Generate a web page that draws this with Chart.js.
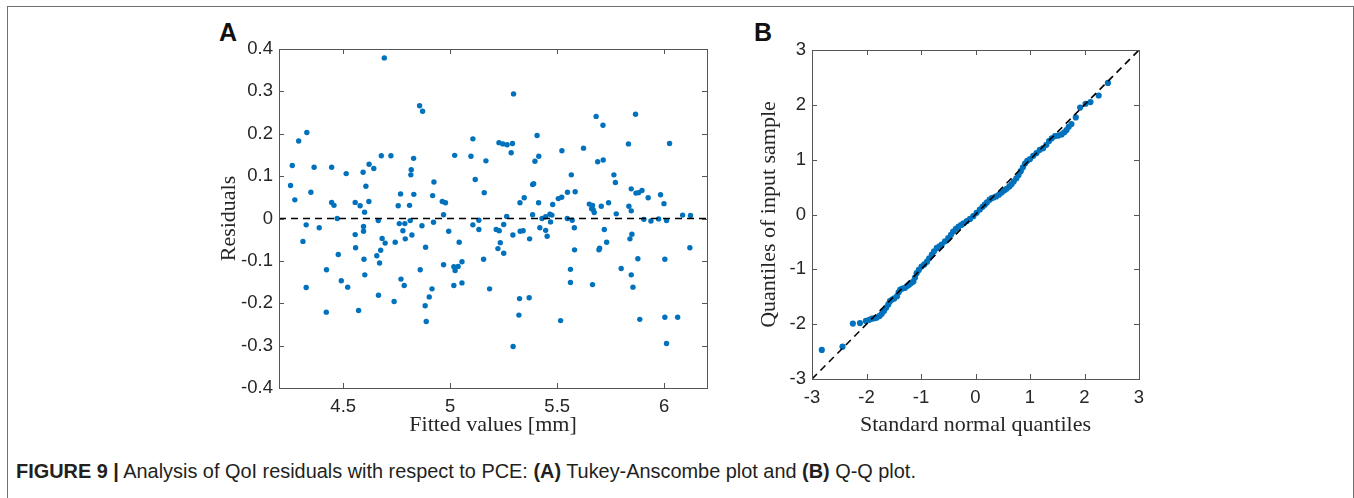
<!DOCTYPE html>
<html>
<head>
<meta charset="utf-8">
<script src="https://cdn.jsdelivr.net/npm/chart.js@4.4.0/dist/chart.umd.min.js"></script>
<style>
  body { margin: 0; background: #fff; width: 1354px; height: 498px; position: relative; overflow: hidden; }
  #frame { position: absolute; left: 7px; top: 6px; width: 1345px; height: 520px; border: 1.5px solid #707070; border-bottom: none; }
  .plab { position: absolute; font: bold 25px "Liberation Sans", Arial, sans-serif; color: #111; }
  #canvasA { position: absolute; left: 200px; top: 0; }
  #canvasB { position: absolute; left: 740px; top: 0; }
  #caption { position: absolute; left: 16px; top: 460px; font: 19.9px "Liberation Sans", Arial, sans-serif; color: #231f20; white-space: nowrap; }
</style>
</head>
<body>
<div id="frame"></div>
<div class="plab" style="left:219px; top:18px;">A</div>
<div class="plab" style="left:754px; top:18px;">B</div>
<canvas id="canvasA" width="520" height="440"></canvas>
<canvas id="canvasB" width="420" height="440"></canvas>
<div id="caption"><b>FIGURE 9 |</b> Analysis of QoI residuals with respect to PCE: <b>(A)</b> Tukey-Anscombe plot and <b>(B)</b> Q-Q plot.</div>
<script>
// panel A: Tukey-Anscombe (fitted values vs residuals)
const fittedA = [4.692,4.857,4.871,4.330,4.292,4.262,4.364,4.446,4.678,4.723,5.021,4.514,4.593,4.621,4.643,4.829,4.818,4.816,4.254,4.274,
  4.349,4.606,4.620,4.556,4.579,4.600,4.446,4.457,4.768,4.757,4.810,4.830,4.924,4.918,4.963,4.978,4.969,4.327,4.388,4.312,
  4.472,4.556,4.595,4.595,4.558,4.664,4.682,4.696,4.675,4.657,4.670,4.477,4.597,4.601,4.422,4.491,4.521,4.327,4.421,4.572,
  4.665,4.738,4.743,4.762,4.788,4.779,4.790,4.813,4.821,4.770,4.785,4.868,4.922,4.885,4.860,4.915,4.902,4.883,4.888,4.993,
  4.969,5.017,5.023,5.037,5.017,5.042,5.055,5.055,5.106,5.134,5.134,5.156,5.184,5.215,5.229,5.250,5.264,5.234,5.223,5.250,
  5.293,5.327,5.341,5.371,5.385,5.324,5.369,5.321,5.294,5.326,5.413,5.429,5.419,5.446,5.466,5.446,5.469,5.475,5.453,5.479,
  5.505,5.547,5.570,5.580,5.581,5.562,5.562,5.516,5.665,5.650,5.665,5.668,5.673,5.661,5.706,5.740,5.776,5.720,5.731,5.698,
  5.695,5.799,5.846,5.854,5.840,5.849,5.835,5.846,5.877,5.886,5.905,5.938,5.974,5.999,6.011,6.003,6.003,6.063,6.011,6.086,
  6.123,6.120,5.296,5.682,5.714,5.866,5.106,5.406,5.228,5.246,5.266,5.291,5.285,5.097,5.167,5.117,5.159,5.346,5.385,5.390,
  5.396,5.414,5.521,5.522,5.548,5.584,5.566,5.623,5.689,5.715,5.765,5.772,5.833,6.025,5.846,5.868,5.880,5.896,5.925,5.983];
const residA = [0.379,0.266,0.253,0.203,0.183,0.125,0.121,0.121,0.148,0.148,0.149,0.106,0.109,0.128,0.118,0.142,0.115,0.103,0.078,0.044,
  0.062,0.076,0.040,0.038,0.030,0.015,0.038,0.031,0.058,0.030,0.031,0.057,0.086,0.054,0.040,0.037,0.009,-0.015,-0.022,-0.054,
  0.000,-0.038,-0.019,-0.030,-0.069,-0.005,-0.047,-0.058,-0.075,-0.088,-0.105,-0.085,-0.096,-0.133,-0.121,-0.147,-0.162,-0.163,-0.221,-0.217,
  -0.181,-0.196,-0.056,-0.012,-0.012,-0.029,-0.048,-0.005,-0.039,-0.143,-0.158,-0.017,-0.009,-0.068,-0.121,-0.166,-0.185,-0.206,-0.243,-0.030,
  -0.109,-0.114,-0.123,-0.113,-0.158,-0.056,-0.102,-0.152,-0.015,-0.026,-0.004,-0.096,-0.166,-0.026,-0.029,-0.014,0.005,-0.057,-0.071,-0.082,
  -0.039,-0.030,-0.029,-0.048,0.009,-0.189,-0.187,-0.228,-0.302,0.037,0.037,0.000,-0.022,0.004,0.010,-0.028,-0.008,0.008,-0.042,0.033,
  0.047,0.000,-0.004,-0.022,-0.074,-0.120,-0.151,-0.241,-0.156,0.034,0.031,0.021,0.014,0.023,0.029,0.037,0.011,-0.026,-0.056,-0.070,
  -0.074,-0.118,-0.133,-0.162,-0.048,-0.037,0.029,0.018,-0.095,-0.238,-0.002,-0.006,-0.001,0.035,-0.005,-0.096,-0.233,-0.233,-0.295,0.008,
  0.007,-0.069,0.294,0.241,0.220,0.246,0.188,0.196,0.179,0.176,0.174,0.177,0.155,0.147,0.136,0.092,0.061,0.049,0.080,0.082,
  0.135,0.147,0.050,0.160,0.062,0.063,0.103,0.166,0.134,0.138,0.103,0.085,0.176,0.177,0.070,0.060,0.061,0.066,0.049,0.056];
const zeroLineX = [4.2, 6.2];
const zeroLineY = [0, 0];
const xTicksA = [4.5, 5, 5.5, 6];
const xTickLabelsA = ['4.5', '5', '5.5', '6'];
const yTicksA = [-0.4, -0.3, -0.2, -0.1, 0, 0.1, 0.2, 0.3, 0.4];
const yTickLabelsA = ['-0.4', '-0.3', '-0.2', '-0.1', '0', '0.1', '0.2', '0.3', '0.4'];

// panel B: Q-Q plot
const normQ = [-2.82,-2.44,-2.25,-2.12,-2.01,-1.95,-1.90,-1.85,-1.81,-1.76,-1.72,-1.68,-1.64,-1.60,-1.57,-1.53,-1.49,-1.44,-1.41,-1.38,
  -1.34,-1.30,-1.26,-1.22,-1.18,-1.14,-1.11,-1.08,-1.04,-0.99,-0.94,-0.89,-0.85,-0.80,-0.76,-0.71,-0.66,-0.62,-0.56,-0.50,
  -0.45,-0.41,-0.36,-0.31,-0.26,-0.22,-0.16,-0.10,-0.04,0.02,0.08,0.13,0.17,0.21,0.26,0.30,0.33,0.38,0.43,0.48,
  0.53,0.57,0.62,0.66,0.70,0.75,0.79,0.83,0.87,0.91,0.95,1.00,1.06,1.12,1.18,1.24,1.30,1.35,1.40,1.46,
  1.52,1.58,1.63,1.67,1.71,1.76,1.84,1.92,2.02,2.11,2.26,2.43];
const sampleQ = [-2.47,-2.41,-1.99,-1.98,-1.94,-1.92,-1.90,-1.89,-1.88,-1.85,-1.81,-1.76,-1.70,-1.64,-1.58,-1.55,-1.53,-1.49,-1.42,-1.37,
  -1.35,-1.34,-1.31,-1.28,-1.25,-1.22,-1.15,-1.07,-1.01,-0.95,-0.91,-0.86,-0.80,-0.73,-0.67,-0.61,-0.58,-0.55,-0.49,-0.43,
  -0.37,-0.31,-0.26,-0.22,-0.19,-0.16,-0.12,-0.08,-0.03,0.03,0.09,0.14,0.18,0.22,0.27,0.30,0.31,0.33,0.36,0.40,
  0.44,0.47,0.51,0.55,0.60,0.66,0.72,0.79,0.86,0.93,0.98,1.01,1.07,1.12,1.18,1.21,1.27,1.34,1.39,1.43,
  1.44,1.46,1.50,1.54,1.60,1.65,1.77,1.95,2.02,2.05,2.17,2.40];
const refLineX = [-3, 3];
const refLineY = [-3, 3];
const ticksB = [-3, -2, -1, 0, 1, 2, 3];
const tickLabelsB = ['-3', '-2', '-1', '0', '1', '2', '3'];

const blue = '#0072BD';
const axisColor = '#262626';
const tickFont = { family: 'Liberation Sans, Arial, sans-serif', size: 18.5 };
const titleFont = { family: 'Liberation Serif, Times New Roman, serif', size: 22 };

// box around the axes with inward tick marks on all sides (MATLAB look)
const boxPlugin = {
    id: 'boxPlugin',
    afterDraw(chart) {
        const ctx = chart.ctx;
        const ca = chart.chartArea;
        const xs = chart.scales.x, ys = chart.scales.y;
        ctx.save();
        ctx.strokeStyle = '#555';
        ctx.lineWidth = 1;
        ctx.strokeRect(Math.round(ca.left) + 0.5, Math.round(ca.top) + 0.5,
            Math.round(ca.right) - Math.round(ca.left), Math.round(ca.bottom) - Math.round(ca.top));
        ctx.beginPath();
        xs.ticks.forEach(t => {
            const px = Math.round(xs.getPixelForValue(t.value)) + 0.5;
            ctx.moveTo(px, ca.bottom); ctx.lineTo(px, ca.bottom - 5);
            ctx.moveTo(px, ca.top); ctx.lineTo(px, ca.top + 5);
        });
        ys.ticks.forEach(t => {
            const py = Math.round(ys.getPixelForValue(t.value)) + 0.5;
            ctx.moveTo(ca.left, py); ctx.lineTo(ca.left + 5, py);
            ctx.moveTo(ca.right, py); ctx.lineTo(ca.right - 5, py);
        });
        ctx.stroke();
        ctx.restore();
    }
};

function axis(min, max, tickVals, tickLabels, size, isX, title) {
    return {
        type: 'linear',
        min: min,
        max: max,
        afterBuildTicks: s => { s.ticks = tickVals.map(v => ({ value: v })); },
        afterFit: s => { if (isX) { s.height = size; } else { s.width = size; } },
        grid: { display: false, drawTicks: false },
        border: { display: false },
        ticks: {
            autoSkip: false,
            maxRotation: 0,
            padding: isX ? 8 : 6,
            color: axisColor,
            font: tickFont,
            callback: (v, i) => tickLabels[i]
        },
        title: {
            display: true,
            text: title,
            color: axisColor,
            font: titleFont,
            padding: isX ? { top: 0, bottom: 2 } : { top: 16, bottom: 0 }
        }
    };
}

new Chart(document.getElementById('canvasA').getContext('2d'), {
    type: 'scatter',
    data: {
        datasets: [{
            data: zeroLineX.map((x, i) => ({ x: x, y: zeroLineY[i] })),
            showLine: true,
            borderColor: '#000',
            borderWidth: 1.6,
            borderDash: [7, 5],
            pointRadius: 0
        }, {
            data: fittedA.map((x, i) => ({ x: x, y: residA[i] })),
            backgroundColor: blue,
            borderWidth: 0,
            pointRadius: 2.7
        }]
    },
    options: {
        responsive: false,
        animation: false,
        layout: { padding: { top: 49, right: 13, left: 0, bottom: 0 } },
        plugins: { legend: { display: false }, tooltip: { enabled: false } },
        scales: {
            x: axis(4.2, 6.2, xTicksA, xTickLabelsA, 52, true, 'Fitted values [mm]'),
            y: axis(-0.4, 0.4, yTicksA, yTickLabelsA, 79, false, 'Residuals')
        }
    },
    plugins: [boxPlugin]
});

new Chart(document.getElementById('canvasB').getContext('2d'), {
    type: 'scatter',
    data: {
        datasets: [{
            data: refLineX.map((x, i) => ({ x: x, y: refLineY[i] })),
            showLine: true,
            borderColor: '#000',
            borderWidth: 1.6,
            borderDash: [7, 5],
            pointRadius: 0
        }, {
            data: normQ.map((x, i) => ({ x: x, y: sampleQ[i] })),
            backgroundColor: blue,
            borderWidth: 0,
            pointRadius: 3.1
        }]
    },
    options: {
        responsive: false,
        animation: false,
        layout: { padding: { top: 50, right: 21, left: 0, bottom: 0 } },
        plugins: { legend: { display: false }, tooltip: { enabled: false } },
        scales: {
            x: axis(-3, 3, ticksB, tickLabelsB, 61, true, 'Standard normal quantiles'),
            y: axis(-3, 3, ticksB, tickLabelsB, 72, false, 'Quantiles of input sample')
        }
    },
    plugins: [boxPlugin]
});
</script>
</body>
</html>
